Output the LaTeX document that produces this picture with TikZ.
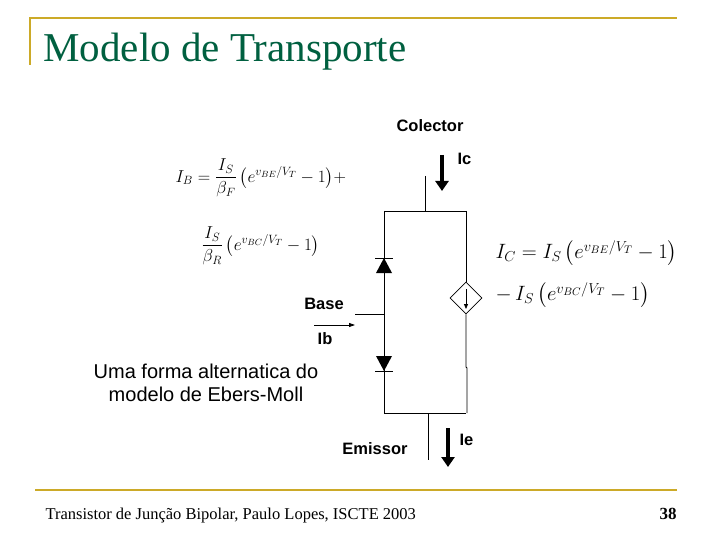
\documentclass[tikz,border=0pt]{standalone}
\usepackage{fontspec}
\setmainfont{Liberation Serif}
\setsansfont{Liberation Sans}
\usepackage{amsmath}
\usetikzlibrary{arrows.meta,shapes.geometric}
\definecolor{titlegreen}{RGB}{0,96,64}
\definecolor{frameyel}{RGB}{204,170,40}
\begin{document}
\begin{tikzpicture}[x=1pt,y=-1pt,
  wire/.style={line width=0.8pt},
  bigarrow/.style={line width=3.5pt,-{Triangle[length=10pt,width=13pt]}},
  lab/.style={font=\sffamily\bfseries\fontsize{16.5}{19}\selectfont},
  eq/.style={font=\fontsize{18}{21}\selectfont}]
\useasboundingbox (0,0) rectangle (720,540);
\fill[white] (0,0) rectangle (720,540);
\draw[frameyel,line width=1.5pt] (30,65) -- (30,18) -- (677,18);
\draw[frameyel,line width=1.2pt] (35,490) -- (677,490);
\node[anchor=west,text=titlegreen,font=\fontsize{41}{46}\selectfont] (title) at (40,52) {Modelo de Transporte};
\node[anchor=west,font=\fontsize{16.5}{19}\selectfont] (foot) at (42,516) {Transistor de Junção Bipolar, Paulo Lopes, ISCTE 2003};
\node[font=\bfseries\fontsize{17}{19}\selectfont] (pg) at (668,514) {38};
% circuit
\coordinate (tl) at (384,211); \coordinate (tr) at (466,211);
\coordinate (bl) at (384,413); \coordinate (br) at (466,413);
\coordinate (ct) at (425,176); \coordinate (cb) at (425,211);
\coordinate (et) at (428,413); \coordinate (eb) at (428,460);
\coordinate (bw) at (355,314); \coordinate (bj) at (384,314);
\draw[wire] (tl) -- (tr); \draw[wire] (bl) -- (br);
\draw[wire] (ct) -- (cb); \draw[wire] (et) -- (eb);
\draw[wire] (tl) -- (bl); \draw[wire] (bw) -- (bj);
\node[draw,diamond,minimum width=32pt,minimum height=32pt,inner sep=0pt,line width=0.6pt] (src) at (466,298) {};
\draw[wire] (tr) -- (src.north); \draw[wire] (src.south) -- (466,367) -- (467,368) -- (467,413);
% diodes
\fill (376,273) -- (392,273) -- (384,258) -- cycle;
\draw[wire] (375,258) -- (393,258);
\fill (376,356) -- (392,356) -- (384,371) -- cycle;
\draw[wire] (375,371) -- (393,371);
\draw[wire,-{Triangle[length=5pt,width=4pt]}] (466,289) -- (466,309);
% arrows
\draw[bigarrow] (442,155) -- (442,191);
\draw[bigarrow] (448,428) -- (448,467);
\draw[wire,-{Triangle[length=6pt,width=4pt]}] (314,325) -- (355,325);
\node[lab] (col) at (430,126) {Colector};
\node[lab,anchor=west] (ic) at (454,159) {Ic};
\node[lab] (base) at (324,304) {Base};
\node[lab] (ib) at (325,339) {Ib};
\node[lab,anchor=west] (ie) at (456,440) {Ie};
\node[lab] (em) at (375,449) {Emissor};
\node[align=center,font=\sffamily\fontsize{20}{23}\selectfont] (note) at (206,383) {Uma forma alternatica do\\modelo de Ebers-Moll};
% equations
\node[eq,anchor=west] (eq1) at (172,178) {$I_B=\dfrac{I_S}{\beta_F}\left(e^{v_{BE}/V_T}-1\right)\!+$};
\node[eq,anchor=west] (eq2) at (198,246) {$\dfrac{I_S}{\beta_R}\left(e^{v_{BC}/V_T}-1\right)$};
\node[eq,anchor=west,font=\fontsize{21}{24}\selectfont] (eq3) at (492,253) {$I_C=I_S\left(e^{v_{BE}/V_T}-1\right)$};
\node[eq,anchor=west,font=\fontsize{21}{24}\selectfont] (eq4) at (492,295) {$-\,I_S\left(e^{v_{BC}/V_T}-1\right)$};
\end{tikzpicture}
\end{document}
